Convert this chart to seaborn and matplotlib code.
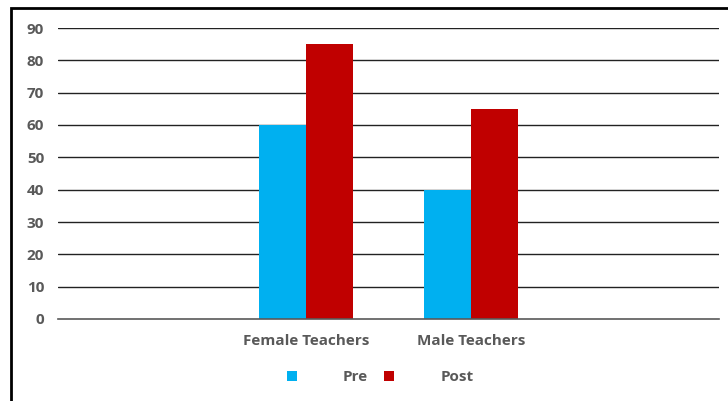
import numpy as np
import pandas as pd
import matplotlib
matplotlib.use("Agg")
import matplotlib.pyplot as plt
import seaborn as sns
from matplotlib.patches import Patch, Rectangle

categories = ["", "Female Teachers", "Male Teachers", " "]
pre_values = [np.nan, 60, 40, np.nan]
post_values = [np.nan, 85, 65, np.nan]
series = ["Pre", "Post"]
colors = ["#00B0F0", "#C00000"]
yticks = [0, 10, 20, 30, 40, 50, 60, 70, 80, 90]

sns.set_theme(style="white")
plt.rcParams['font.family'] = ['Open Sans', 'DejaVu Sans']

df = pd.DataFrame({
    "category": categories * 2,
    "value": pre_values + post_values,
    "series": [series[0]] * len(categories) + [series[1]] * len(categories),
})

fig = plt.figure(figsize=(7.28, 4.01), dpi=100)
W, H = 728, 401
ax = fig.add_axes([58 / W, 1 - 319 / H, (719 - 58) / W, (319 - 28) / H])

sns.barplot(data=df, x="category", y="value", hue="series", order=categories,
            hue_order=series, palette=colors, width=0.57, saturation=1,
            ax=ax, legend=False, linewidth=0)

ax.set_ylim(0, 90)
ax.set_xlim(-0.5, len(categories) - 0.5)
ax.set_yticks(yticks)
ax.set_xlabel("")
ax.set_ylabel("")
for y in yticks[1:]:
    ax.axhline(y, color="#222222", lw=1.0, zorder=0)
for s in ["top", "right", "left"]:
    ax.spines[s].set_visible(False)
ax.spines["bottom"].set_color("#595959")
ax.spines["bottom"].set_linewidth(1.2)
ax.tick_params(axis="both", length=0, labelcolor="#595959", labelsize=11)
ax.tick_params(axis="y", pad=10)
ax.tick_params(axis="x", pad=11)
for lbl in ax.get_xticklabels() + ax.get_yticklabels():
    lbl.set_fontweight("bold")

handles = [Patch(facecolor=c, edgecolor="none", label=s) for s, c in zip(series, colors)]
leg = fig.legend(handles=handles, loc="center", bbox_to_anchor=(380 / W, 1 - 377 / H),
                 ncol=2, frameon=False, handlelength=0.65, handleheight=0.65,
                 handletextpad=3.0, columnspacing=1.1,
                 prop={"weight": "bold", "size": 11})
for t in leg.get_texts():
    t.set_color("#595959")

fig.patches.append(Rectangle((11 / W, -0.1), 2.0, 1.1 - 8 / H, transform=fig.transFigure,
                             fill=False, edgecolor="black", lw=2, zorder=10))

fig.savefig("out.png", dpi=100)
